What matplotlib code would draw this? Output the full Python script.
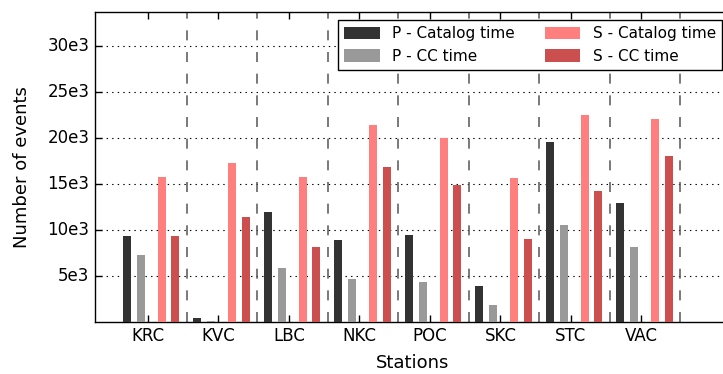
import numpy as np
import matplotlib
matplotlib.use("Agg")
import matplotlib.pyplot as plt

stations = ["KRC", "KVC", "LBC", "NKC", "POC", "SKC", "STC", "VAC"]
p_catalog = [9330, 370, 11950, 8900, 9440, 3890, 19600, 12900]
p_cc = [7270, 80, 5880, 4650, 4320, 1820, 10500, 8140]
s_catalog = [15760, 17290, 15760, 21430, 20000, 15650, 22500, 22100]
s_cc = [9330, 11400, 8140, 16900, 14900, 9000, 14200, 18050]

yticks = [5000, 10000, 15000, 20000, 25000, 30000]
yticklabels = ["5e3", "10e3", "15e3", "20e3", "25e3", "30e3"]

plt.style.use("classic")
plt.rcParams["font.family"] = ["DejaVu Sans"]

fig = plt.figure(figsize=(7.23, 3.74), dpi=100, facecolor="white")
ax = fig.add_axes([0.1314, 0.1398, 0.8776, 0.827])

x = np.arange(len(stations))
w = 0.11
ax.bar(x - 0.30, p_catalog, w, color="#333333", linewidth=0, label="P - Catalog time", zorder=3)
ax.bar(x - 0.10, p_cc, w, color="#999999", linewidth=0, label="P - CC time", zorder=3)
ax.bar(x + 0.195, s_catalog, w, color="#ff7f7f", linewidth=0, label="S - Catalog time", zorder=3)
ax.bar(x + 0.39, s_cc, w, color="#cc4f4f", linewidth=0, label="S - CC time", zorder=3)

# separators between stations
for xi in x:
    ax.axvline(xi + 0.55, color="#555555", linewidth=1.1, dashes=(7.2, 8.4), zorder=1)

ax.yaxis.grid(True, linestyle=":", color="black", linewidth=0.8, zorder=0)
ax.xaxis.grid(False)
ax.set_axisbelow(True)

ax.set_xlim(-0.75, 8.25)
ax.set_ylim(0, 33700)
ax.set_xticks(x)
ax.set_xticklabels(stations, fontsize=12)
ax.set_yticks(yticks)
ax.set_yticklabels(yticklabels, fontsize=12)
ax.tick_params(direction="in", length=5, width=1)

ax.set_xlabel("Stations", fontsize=13, labelpad=6)
ax.set_ylabel("Number of events", fontsize=13, labelpad=12)

handles, labels = ax.get_legend_handles_labels()
ax.legend(handles, labels, ncol=2, loc="upper right", fontsize=11, frameon=True,
          fancybox=False, shadow=False, handlelength=2.3, handleheight=0.9,
          columnspacing=2.0, borderaxespad=0.5, framealpha=1)

plt.savefig("out.png", dpi=100, facecolor="white")
